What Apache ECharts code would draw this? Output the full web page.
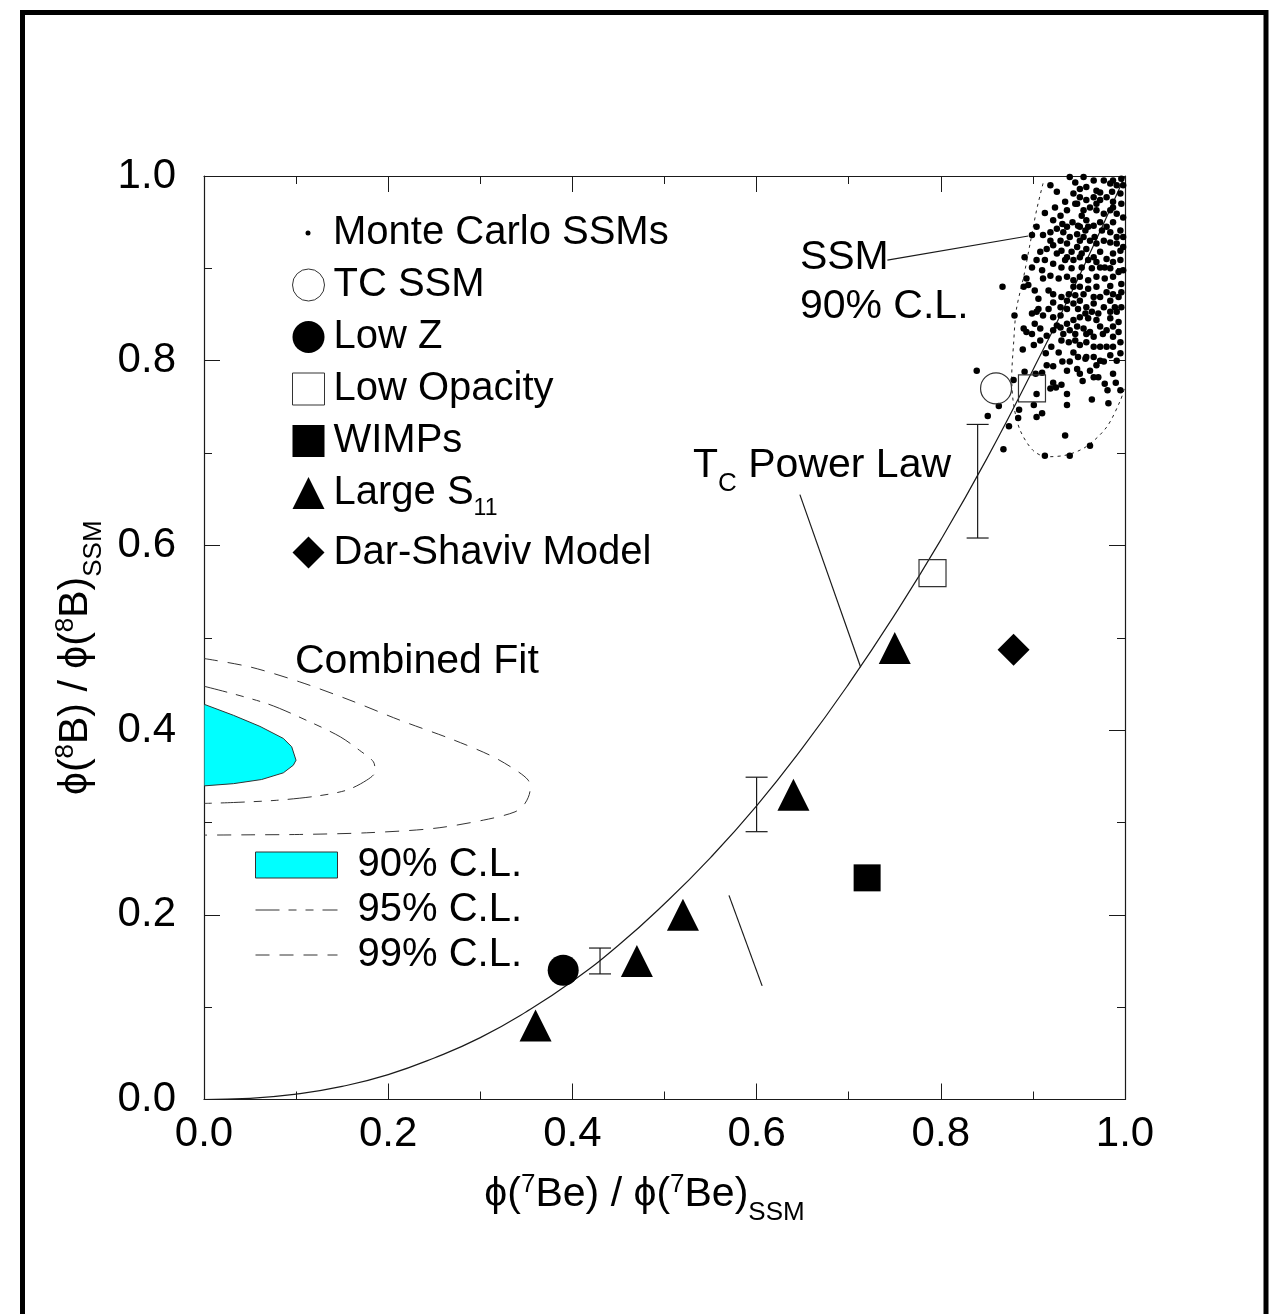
<!DOCTYPE html>
<html style="height: 100%">
<head>
<meta charset="utf-8">
</head>
<body style="height: 100%; margin: 0; background: #fff">
<div id="container" style="width: 1282px; height: 1314px"></div>
<script type="text/javascript" src="https://cdn.jsdelivr.net/npm/echarts@6/dist/echarts.min.js"></script>
<script type="text/javascript">
var FONT = '"Liberation Sans", Arial, Helvetica, sans-serif';

// single models: [x, y] = [phi(7Be)/SSM, phi(8B)/SSM]
var tcSSM = [[0.86, 0.77]];
var lowZ = [[0.39, 0.14]];
var lowOpacity = [[0.791, 0.57], [0.899, 0.77]];
var wimps = [[0.72, 0.24]];
var largeS11 = [[0.36, 0.08], [0.47, 0.15], [0.52, 0.20], [0.64, 0.33], [0.75, 0.489]];
var darShaviv = [[0.879, 0.487]];

// error bars: [x, low, high]
var errorBars = [[0.43, 0.136, 0.164], [0.60, 0.29, 0.349], [0.84, 0.608, 0.731]];

// Tc power law curve
var powerX = [0, 0.05, 0.1, 0.15, 0.2, 0.25, 0.3, 0.35, 0.4, 0.45, 0.5, 0.55, 0.6, 0.65, 0.7, 0.75, 0.8, 0.85, 0.9, 0.95, 1.0];
var powerY = [0, 0.0012, 0.0058, 0.0142, 0.027, 0.045, 0.067, 0.095, 0.128, 0.167, 0.212, 0.262, 0.318, 0.381, 0.45, 0.525, 0.606, 0.694, 0.79, 0.891, 1.0];

// combined fit contours
var cl90X = [0, 0.032, 0.0608, 0.0861, 0.0952, 0.0999, 0.097, 0.0861, 0.0626, 0.032, 0];
var cl90Y = [0.428, 0.416, 0.404, 0.391, 0.382, 0.3674, 0.362, 0.3537, 0.3465, 0.342, 0.3396];
var cl95X = [0, 0.068, 0.115, 0.148, 0.169, 0.184, 0.1857, 0.1767, 0.155, 0.122, 0.079, 0.032, 0];
var cl95Y = [0.4475, 0.4288, 0.4089, 0.3927, 0.378, 0.3656, 0.3548, 0.3458, 0.335, 0.3285, 0.324, 0.3216, 0.3206];
var cl99X = [0, 0.05, 0.104, 0.1585, 0.2128, 0.267, 0.3105, 0.3358, 0.352, 0.354, 0.3485, 0.3377, 0.3033, 0.249, 0.1767, 0.104, 0.05, 0];
var cl99Y = [0.4775, 0.4684, 0.4522, 0.4324, 0.4107, 0.3909, 0.3728, 0.3584, 0.3458, 0.335, 0.3206, 0.3115, 0.3025, 0.2935, 0.2888, 0.287, 0.2866, 0.2863];

// SSM 90% C.L. (dotted) boundary
var ssmClX = [0.911, 0.904, 0.897, 0.890, 0.882, 0.879, 0.877, 0.879, 0.886, 0.900, 0.915, 0.937, 0.958, 0.980, 0.995, 1.0];
var ssmClY = [0.992, 0.963, 0.927, 0.891, 0.855, 0.818, 0.782, 0.753, 0.725, 0.703, 0.696, 0.698, 0.707, 0.728, 0.757, 0.772];

// pointer lines [x1, y1, x2, y2]
var pointers = [[0.742, 0.909, 0.895, 0.935], [0.647, 0.655, 0.713, 0.468], [0.570, 0.221, 0.606, 0.123]];

// Monte Carlo SSMs
var mcDots = [
  [0.839, 0.789], [0.867, 0.880], [0.880, 0.849], [0.851, 0.740], [0.863, 0.751], [0.868, 0.704], [0.874, 0.729],
  [0.884, 0.738], [0.885, 0.747], [0.879, 0.779], [0.901, 0.752], [0.904, 0.739], [0.910, 0.743], [0.913, 0.697],
  [0.940, 0.697], [0.962, 0.708], [0.935, 0.719], [0.937, 0.752], [0.964, 0.758], [0.982, 0.754], [0.981, 0.768],
  [0.990, 0.776], [0.978, 0.775], [0.954, 0.778], [0.962, 0.789], [0.977, 0.799], [0.931, 0.774], [0.925, 0.771],
  [0.919, 0.770], [0.922, 0.776], [0.891, 0.788], [0.903, 0.786], [0.910, 0.787], [0.915, 0.795], [0.922, 0.794],
  [0.932, 0.799], [0.940, 0.799], [0.914, 0.808], [0.889, 0.812], [0.901, 0.817], [0.893, 0.831], [0.890, 0.835],
  [0.902, 0.840], [0.915, 0.827], [0.922, 0.833], [0.931, 0.822], [0.939, 0.820], [0.946, 0.822], [0.951, 0.817],
  [0.958, 0.820], [0.966, 0.815], [0.973, 0.815], [0.980, 0.815], [0.987, 0.826], [0.993, 0.831], [0.976, 0.829],
  [0.966, 0.826], [0.962, 0.831], [0.955, 0.835], [0.948, 0.837], [0.940, 0.833], [0.933, 0.829], [0.926, 0.838],
  [0.937, 0.840], [0.944, 0.844], [0.951, 0.847], [0.960, 0.846], [0.969, 0.844], [0.984, 0.846], [0.993, 0.842],
  [0.977, 0.858], [0.989, 0.858], [0.987, 0.872], [0.996, 0.874], [0.993, 0.869], [0.980, 0.874], [0.973, 0.869],
  [0.966, 0.869], [0.955, 0.872], [0.946, 0.871], [0.939, 0.872], [0.931, 0.869], [0.922, 0.872], [0.917, 0.876],
  [0.930, 0.858], [0.937, 0.856], [0.944, 0.862], [0.958, 0.858], [0.906, 0.867], [0.906, 0.856], [0.911, 0.849],
  [0.899, 0.851], [0.904, 0.853], [0.902, 0.876], [0.893, 0.889], [0.895, 0.882], [0.911, 0.889], [0.919, 0.892],
  [0.928, 0.889], [0.937, 0.891], [0.944, 0.887], [0.951, 0.891], [0.960, 0.887], [0.969, 0.891], [0.978, 0.889],
  [0.987, 0.891], [0.996, 0.883], [0.993, 0.896], [0.984, 0.900], [0.973, 0.901], [0.964, 0.900], [0.953, 0.901],
  [0.942, 0.900], [0.931, 0.901], [0.922, 0.905], [0.913, 0.909], [0.908, 0.918], [0.915, 0.921], [0.922, 0.925],
  [0.926, 0.916], [0.931, 0.919], [0.937, 0.912], [0.942, 0.918], [0.948, 0.923], [0.953, 0.916], [0.958, 0.921],
  [0.966, 0.912], [0.973, 0.918], [0.980, 0.910], [0.987, 0.916], [0.995, 0.909], [0.998, 0.923], [0.991, 0.927],
  [0.984, 0.928], [0.977, 0.930], [0.969, 0.927], [0.962, 0.930], [0.955, 0.934], [0.948, 0.937], [0.940, 0.934],
  [0.933, 0.939], [0.926, 0.943], [0.919, 0.939], [0.911, 0.936], [0.913, 0.960], [0.932, 0.948], [0.943, 0.950],
  [0.951, 0.945], [0.958, 0.952], [0.966, 0.946], [0.973, 0.950], [0.980, 0.945], [0.987, 0.950], [0.995, 0.941],
  [0.998, 0.934], [0.998, 0.955], [0.991, 0.959], [0.984, 0.963], [0.977, 0.959], [0.969, 0.963], [0.962, 0.966],
  [0.955, 0.963], [0.948, 0.970], [0.951, 0.977], [0.958, 0.974], [0.966, 0.977], [0.973, 0.974], [0.980, 0.977],
  [0.987, 0.972], [0.995, 0.981], [0.998, 0.990], [0.991, 0.990], [0.984, 0.992], [0.977, 0.995], [0.966, 0.995],
  [0.955, 0.999], [0.940, 0.999], [0.935, 0.972], [0.919, 0.990], [0.926, 0.983], [0.958, 0.988], [0.969, 0.984],
  [0.986, 0.983], [0.944, 0.981], [0.891, 0.912], [0.904, 0.909], [0.899, 0.901], [0.890, 0.880], [0.910, 0.898],
  [0.949, 0.804], [0.957, 0.802], [0.969, 0.795], [0.984, 0.806], [0.995, 0.808], [0.991, 0.800], [0.987, 0.786],
  [0.995, 0.768], [0.899, 0.829], [0.908, 0.822], [0.920, 0.815], [0.928, 0.809], [0.944, 0.809], [0.948, 0.791],
  [0.971, 0.782], [0.946, 0.970], [0.953, 0.957], [0.960, 0.945], [0.967, 0.934], [0.975, 0.941], [0.984, 0.939],
  [0.991, 0.934], [0.995, 0.919], [0.987, 0.907], [0.978, 0.901], [0.969, 0.907], [0.960, 0.909], [0.951, 0.912],
  [0.944, 0.909], [0.935, 0.909], [0.930, 0.930], [0.937, 0.927], [0.951, 0.930], [0.957, 0.941], [0.949, 0.946],
  [0.937, 0.945], [0.922, 0.952], [0.904, 0.945], [0.899, 0.936], [0.919, 0.930], [0.944, 0.880], [0.951, 0.880],
  [0.960, 0.878], [0.969, 0.880], [0.984, 0.881], [0.991, 0.853], [0.984, 0.853], [0.971, 0.851], [0.964, 0.853],
  [0.957, 0.851], [0.949, 0.856], [0.930, 0.849], [0.922, 0.847], [0.917, 0.856], [0.922, 0.863], [0.937, 0.865],
  [0.951, 0.865], [0.966, 0.862], [0.984, 0.865], [0.973, 0.837], [0.980, 0.833], [0.987, 0.837], [0.958, 0.829],
  [0.946, 0.829], [0.930, 0.836], [0.908, 0.835], [0.958, 0.804], [0.966, 0.804], [0.973, 0.800], [0.937, 0.789],
  [0.951, 0.786], [0.966, 0.782], [0.937, 0.764], [0.904, 0.764], [0.987, 0.815], [0.995, 0.820], [0.996, 0.858],
  [0.998, 0.898], [0.937, 0.963], [0.930, 0.957], [0.924, 0.966], [0.969, 0.970], [0.987, 0.966], [0.996, 0.970],
  [0.951, 0.986], [0.973, 0.982], [0.987, 0.995], [0.996, 0.997], [0.946, 0.993]
];

// text notes inside the plot, anchored at their left/middle
var notes = [
  {text: 'SSM', x: 0.647, y: 0.912},
  {text: '90% C.L.', x: 0.647, y: 0.858},
  {text: 'Combined Fit', x: 0.0988, y: 0.4746},
  {text: 'T{sub|C} Power Law', x: 0.531, y: 0.6867}
];

var zip = function (xs, ys) {
  return xs.map(function (x, i) { return [x, ys[i]]; });
};

var dash95 = [24, 9, 8, 9, 8, 9];
var dash99 = [14, 10];
var ink = '#1a1a1a';

var textRich = function (size) {
  return {
    sup: {fontSize: size, fontFamily: FONT, color: '#000', height: 30, verticalAlign: 'top'},
    sub: {fontSize: size, fontFamily: FONT, color: '#000', height: 14, verticalAlign: 'bottom'}
  };
};

var makeAxis = function (pos, showLabel) {
  return {
    type: 'value', position: pos, min: 0, max: 1, interval: 0.2,
    axisLine: {show: true, onZero: false, lineStyle: {color: ink, width: 1.2}},
    axisTick: {show: true, inside: true, length: 16, lineStyle: {color: ink, width: 1}},
    minorTick: {show: true, splitNumber: 2, length: 8, lineStyle: {color: ink, width: 1}},
    splitLine: {show: false},
    minorSplitLine: {show: false},
    axisLabel: {
      show: showLabel, fontSize: 42, color: '#000', fontFamily: FONT,
      margin: pos === 'left' ? 28 : 14, showMinLabel: true, showMaxLabel: true,
      formatter: function (v) { return v.toFixed(1); }
    }
  };
};

var xBottom = makeAxis('bottom', true);
xBottom.name = 'ϕ({sup|7}Be) / ϕ({sup|7}Be){sub|SSM}';
xBottom.nameLocation = 'middle';
xBottom.nameGap = 70;
xBottom.nameTextStyle = {fontSize: 41, color: '#000', fontFamily: FONT, lineHeight: 50,
  padding: [0, 40, 0, 0], rich: textRich(26)};

var yLeft = makeAxis('left', true);
yLeft.name = 'ϕ({sup|8}B) / ϕ({sup|8}B){sub|SSM}';
yLeft.nameLocation = 'middle';
yLeft.nameRotate = 90;
yLeft.nameGap = 97;
yLeft.nameTextStyle = {fontSize: 41, color: '#000', fontFamily: FONT, lineHeight: 50,
  padding: [0, 40, 0, 0], rich: textRich(26)};

var legendText = {fontSize: 40, lineHeight: 40, color: '#000', fontFamily: FONT};

var dom = document.getElementById('container');
var myChart = echarts.init(dom, null, {renderer: 'canvas'});

var option = {
  animation: false,
  backgroundColor: '#fff',
  textStyle: {fontFamily: FONT},
  grid: {left: 204, right: 157, top: 176, bottom: 214.5, outerBoundsMode: 'none'},
  xAxis: [xBottom, makeAxis('top', false)],
  yAxis: [yLeft, makeAxis('right', false)],
  // outer frame of the figure
  graphic: [{
    type: 'rect', silent: true, z: -10,
    shape: {x: 22.5, y: 12.5, width: 1243.5, height: 1400},
    style: {fill: 'none', stroke: '#000', lineWidth: 5}
  }],
  legend: [
    {
      orient: 'vertical', left: 305.5, top: 213, padding: 0, itemWidth: 5, itemHeight: 5,
      selectedMode: false,
      textStyle: echarts.util.extend({padding: [0, 0, 0, 17.5]}, legendText),
      data: [{name: 'Monte Carlo SSMs', icon: 'circle', itemStyle: {color: '#000', borderWidth: 0, opacity: 1}}]
    },
    {
      orient: 'vertical', left: 292, top: 265, padding: 0, itemWidth: 32, itemHeight: 32, itemGap: 12,
      selectedMode: false,
      textStyle: echarts.util.extend({padding: [0, 0, 0, 4],
        rich: {sub: {fontSize: 23, fontFamily: FONT, color: '#000', height: 8, verticalAlign: 'bottom'}}}, legendText),
      formatter: function (name) {
        return name === 'Large S11' ? 'Large S{sub|11}' : name;
      },
      data: [
        {name: 'TC SSM', icon: 'circle', itemStyle: {color: 'rgba(0,0,0,0)', borderColor: '#333', borderWidth: 1, opacity: 1}},
        {name: 'Low Z', icon: 'circle', itemStyle: {color: '#000', borderWidth: 0, opacity: 1}},
        {name: 'Low Opacity', icon: 'rect', itemStyle: {color: 'rgba(0,0,0,0)', borderColor: '#333', borderWidth: 1, opacity: 1}},
        {name: 'WIMPs', icon: 'rect', itemStyle: {color: '#000', borderWidth: 0, opacity: 1}},
        {name: 'Large S11', icon: 'triangle', itemStyle: {color: '#000', borderWidth: 0, opacity: 1}},
        {name: 'Dar-Shaviv Model', icon: 'diamond', itemStyle: {color: '#000', borderWidth: 0, opacity: 1}}
      ]
    },
    {
      orient: 'vertical', left: 255, top: 845, padding: 0, itemWidth: 82, itemHeight: 26, itemGap: 5,
      selectedMode: false,
      textStyle: echarts.util.extend({padding: [0, 0, 0, 15]}, legendText),
      data: [
        {name: '90% C.L.', icon: 'rect', itemStyle: {color: '#00ffff', borderColor: '#333', borderWidth: 1, opacity: 1}},
        {name: '95% C.L.', itemStyle: {opacity: 0}, lineStyle: {color: '#333', width: 1, type: dash95, opacity: 1}},
        {name: '99% C.L.', itemStyle: {opacity: 0}, lineStyle: {color: '#333', width: 1, type: dash99, opacity: 1}}
      ]
    }
  ],
  series: [
    {
      name: '90% C.L.', type: 'custom', z: 1, silent: true, clip: true,
      data: zip(cl90X, cl90Y),
      renderItem: function (params, api) {
        if (params.dataIndex !== 0) return null;
        var pts = cl90X.map(function (x, i) { return api.coord([x, cl90Y[i]]); });
        return {type: 'polygon', shape: {points: pts}, style: {fill: '#00ffff', stroke: '#333', lineWidth: 1}};
      }
    },
    {
      name: '95% C.L.', type: 'line', z: 2, symbol: 'none', smooth: 0.3, silent: true,
      data: zip(cl95X, cl95Y),
      lineStyle: {color: '#333', width: 1, type: dash95}
    },
    {
      name: '99% C.L.', type: 'line', z: 2, symbol: 'none', smooth: 0.3, silent: true,
      data: zip(cl99X, cl99Y),
      lineStyle: {color: '#333', width: 1, type: dash99}
    },
    {
      name: 'SSM 90% C.L.', type: 'line', z: 2, symbol: 'none', smooth: 0.3, silent: true,
      data: zip(ssmClX, ssmClY),
      lineStyle: {color: '#222', width: 1, type: [3, 4]}
    },
    {
      name: 'Tc Power Law', type: 'line', z: 3, symbol: 'none', smooth: true, silent: true,
      data: zip(powerX, powerY),
      lineStyle: {color: ink, width: 1.2}
    },
    {
      name: 'pointers', type: 'custom', z: 3, silent: true,
      encode: {x: [0, 2], y: [1, 3]},
      data: pointers,
      renderItem: function (params, api) {
        var a = api.coord([api.value(0), api.value(1)]);
        var b = api.coord([api.value(2), api.value(3)]);
        return {type: 'line', shape: {x1: a[0], y1: a[1], x2: b[0], y2: b[1]},
          style: {stroke: ink, lineWidth: 1.2}};
      }
    },
    {
      name: 'error bars', type: 'custom', z: 3, silent: true,
      encode: {x: 0, y: [1, 2]},
      data: errorBars,
      renderItem: function (params, api) {
        var lo = api.coord([api.value(0), api.value(1)]);
        var hi = api.coord([api.value(0), api.value(2)]);
        var w = 11;
        var st = {stroke: ink, lineWidth: 1.2};
        return {type: 'group', children: [
          {type: 'line', shape: {x1: lo[0], y1: lo[1], x2: hi[0], y2: hi[1]}, style: st},
          {type: 'line', shape: {x1: lo[0] - w, y1: lo[1], x2: lo[0] + w, y2: lo[1]}, style: st},
          {type: 'line', shape: {x1: hi[0] - w, y1: hi[1], x2: hi[0] + w, y2: hi[1]}, style: st}
        ]};
      }
    },
    {
      name: 'Monte Carlo SSMs', type: 'scatter', z: 4, symbol: 'circle', symbolSize: 6.5, silent: true,
      data: mcDots, itemStyle: {color: '#000', opacity: 1}
    },
    {
      name: 'TC SSM', type: 'scatter', z: 5, symbol: 'circle', symbolSize: 31, silent: true,
      data: tcSSM, itemStyle: {color: 'rgba(0,0,0,0)', borderColor: '#333', borderWidth: 1.2, opacity: 1}
    },
    {
      name: 'Low Z', type: 'scatter', z: 5, symbol: 'circle', symbolSize: 31, silent: true,
      data: lowZ, itemStyle: {color: '#000', opacity: 1}
    },
    {
      name: 'Low Opacity', type: 'scatter', z: 5, symbol: 'rect', symbolSize: 27, silent: true,
      data: lowOpacity, itemStyle: {color: 'rgba(0,0,0,0)', borderColor: '#333', borderWidth: 1.2, opacity: 1}
    },
    {
      name: 'WIMPs', type: 'scatter', z: 5, symbol: 'rect', symbolSize: 27, silent: true,
      data: wimps, itemStyle: {color: '#000', opacity: 1}
    },
    {
      name: 'Large S11', type: 'scatter', z: 5, symbol: 'triangle', symbolSize: 32, silent: true,
      data: largeS11, itemStyle: {color: '#000', opacity: 1}
    },
    {
      name: 'Dar-Shaviv Model', type: 'scatter', z: 5, symbol: 'diamond', symbolSize: 32, silent: true,
      data: darShaviv, itemStyle: {color: '#000', opacity: 1}
    },
    {
      name: 'notes', type: 'scatter', z: 6, symbol: 'circle', symbolSize: 0, silent: true,
      itemStyle: {color: 'rgba(0,0,0,0)', opacity: 1},
      data: notes.map(function (n) { return {name: n.text, value: [n.x, n.y]}; }),
      label: {
        show: true, position: [0, 0], align: 'left', verticalAlign: 'middle', formatter: '{b}',
        fontSize: 41, color: '#000', fontFamily: FONT, lineHeight: 50, rich: textRich(26)
      }
    }
  ]
};

myChart.setOption(option, true);
</script>
</body>
</html>
